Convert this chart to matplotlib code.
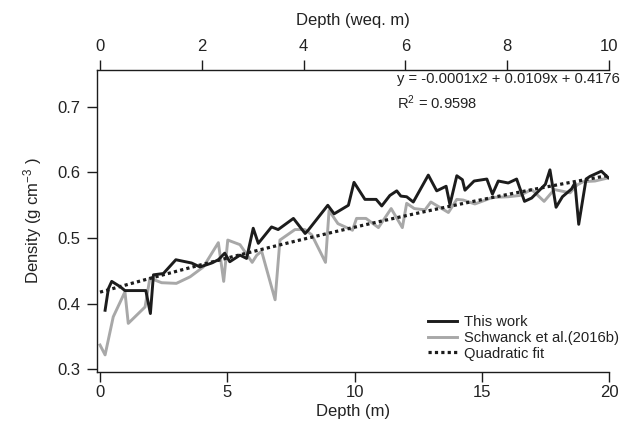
import numpy as np
import matplotlib
matplotlib.use('Agg')
import matplotlib.pyplot as plt

plt.rcParams['font.family'] = ['Liberation Sans', 'DejaVu Sans']
plt.rcParams['mathtext.fontset'] = 'custom'
plt.rcParams['mathtext.rm'] = 'Liberation Sans'
plt.rcParams['mathtext.it'] = 'Liberation Sans:italic'

# This work (depth m, density g cm-3)
this_depth = [0.2, 0.33, 0.46, 0.79, 0.98, 1.8, 1.98, 2.1, 2.49, 2.98, 3.6, 3.93,
              4.39, 4.65, 4.9, 5.1, 5.5, 5.76, 6.02, 6.22, 6.74, 7.0, 7.6, 8.06,
              8.18, 8.95, 9.2, 9.76, 9.98, 10.41, 10.85, 11.07, 11.39, 11.66,
              11.82, 12.05, 12.31, 12.9, 13.23, 13.6, 13.75, 14.02, 14.24, 14.34,
              14.7, 15.2, 15.42, 15.65, 16.04, 16.37, 16.68, 16.96, 17.5, 17.68,
              17.92, 18.17, 18.53, 18.66, 18.81, 19.1, 19.25, 19.7, 19.97]
this_dens = [0.390, 0.423, 0.434, 0.426, 0.420, 0.420, 0.385, 0.444, 0.446, 0.467,
             0.462, 0.456, 0.462, 0.467, 0.477, 0.464, 0.474, 0.469, 0.515, 0.492,
             0.517, 0.513, 0.530, 0.507, 0.512, 0.550, 0.537, 0.550, 0.585, 0.559,
             0.559, 0.549, 0.565, 0.572, 0.564, 0.563, 0.555, 0.596, 0.572, 0.579,
             0.551, 0.595, 0.589, 0.573, 0.587, 0.590, 0.567, 0.587, 0.584, 0.590,
             0.556, 0.561, 0.582, 0.604, 0.547, 0.563, 0.575, 0.584, 0.521, 0.590,
             0.594, 0.602, 0.592]

# Schwanck et al. (2016b)
schw_depth = [0.0, 0.2, 0.52, 0.98, 1.11, 1.77, 1.96, 2.42, 3.0, 3.54, 4.06, 4.65,
              4.86, 5.02, 5.5, 5.98, 6.16, 6.35, 6.88, 7.07, 7.66, 8.05, 8.32, 8.86,
              9.0, 9.35, 9.92, 10.08, 10.45, 10.94, 11.44, 11.88, 12.05, 12.35,
              12.77, 13.0, 13.69, 14.02, 14.27, 14.73, 15.42, 16.04, 16.5, 16.96,
              17.45, 17.85, 18.47, 18.75, 18.99, 19.45, 20.0]
schw_dens = [0.337, 0.322, 0.380, 0.418, 0.370, 0.395, 0.439, 0.432, 0.431, 0.441,
             0.456, 0.493, 0.434, 0.497, 0.490, 0.463, 0.474, 0.480, 0.406, 0.497,
             0.513, 0.513, 0.505, 0.463, 0.542, 0.522, 0.512, 0.530, 0.530, 0.516,
             0.545, 0.516, 0.553, 0.545, 0.543, 0.555, 0.539, 0.559, 0.558, 0.552,
             0.562, 0.563, 0.565, 0.574, 0.556, 0.574, 0.569, 0.581, 0.586, 0.587,
             0.592]

# quadratic fit coefficients as printed on the chart
fit_coef = [-0.0001, 0.0109, 0.4176]
fit_range = (0, 20)

black = '#1c1c1c'
grey = '#a8a8a8'
txt = '#222222'

fig = plt.figure(figsize=(6.21, 4.32), dpi=100)
ax = fig.add_axes([96.7 / 621, 1 - 372 / 432, (609 - 96.7) / 621, (372 - 70) / 432])

ax.plot(this_depth, this_dens, color=black, lw=2.1, label='This work', zorder=3)
ax.plot(schw_depth, schw_dens, color=grey, lw=2.1, label='Schwanck et al.(2016b)', zorder=2)
xf = np.linspace(fit_range[0], fit_range[1], 200)
ax.plot(xf, np.polyval(fit_coef, xf), color=black, lw=2.3, ls=(0, (1, 1)),
        label='Quadratic fit', zorder=4)

ax.set_xlim(-0.13, 20)
ax.set_ylim(0.2959, 0.7562)
ax.set_xticks([0, 5, 10, 15, 20])
ax.set_yticks([0.3, 0.4, 0.5, 0.6, 0.7])
ax.set_yticklabels(['0.3', '0.4', '0.5', '0.6', '0.7'])

for s in ['right', 'top']:
    ax.spines[s].set_visible(False)
for s in ['left', 'bottom']:
    ax.spines[s].set_color(black)
    ax.spines[s].set_linewidth(1.0)

ax.tick_params(direction='out', length=7.5, width=1.0, color=black,
               labelsize=12, labelcolor=txt, pad=4)
ax.tick_params(axis='x', pad=2)
ax.set_xlabel('Depth (m)', fontsize=12, color=txt, labelpad=3)
ax.set_ylabel('Density (g cm$^{-3}$ )', fontsize=12, color=txt, labelpad=10)

top = ax.secondary_xaxis('top', functions=(lambda d: d / 2, lambda w: w * 2))
top.set_xticks([0, 2, 4, 6, 8, 10])
top.tick_params(direction='out', length=7.5, width=1.0, color=black,
                labelsize=12, labelcolor=txt, pad=4)
top.spines['top'].set_color(black)
top.spines['top'].set_linewidth(1.0)
top.set_xlabel('Depth (weq. m)', fontsize=12, color=txt, labelpad=10)

fig.text(397 / 621, 1 - 79 / 432, 'y = -0.0001x2 + 0.0109x + 0.4176',
         fontsize=10.6, color=txt, ha='left', va='center')
fig.text(397 / 621, 1 - 103 / 432, 'R$^{2}$ = 0.9598',
         fontsize=10.6, color=txt, ha='left', va='center')

ax.legend(loc='upper left', bbox_to_anchor=(428 / 621, 1 - 315 / 432),
          bbox_transform=fig.transFigure, frameon=False, fontsize=10.6,
          handlelength=2.0, handletextpad=0.45, labelspacing=0.12,
          borderpad=0, borderaxespad=0, labelcolor=txt)

fig.savefig('out.png', dpi=100)
